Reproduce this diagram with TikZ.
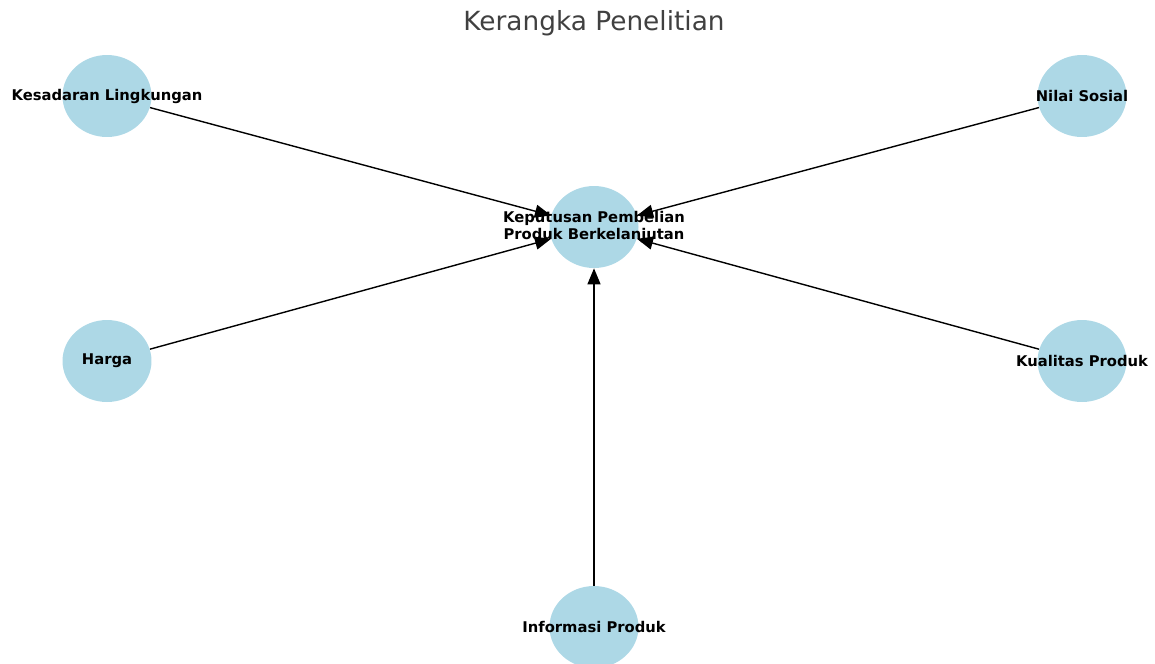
\documentclass[tikz,border=0pt]{standalone}
\usepackage{fontspec}
\setmainfont{DejaVu Sans}
\usetikzlibrary{arrows.meta,shapes.geometric}
\definecolor{nodeblue}{HTML}{ADD8E6}
\definecolor{titlegray}{HTML}{404040}
\tikzset{
    varnode/.style={ellipse,fill=nodeblue,minimum width=1.78cm,minimum height=1.64cm,inner sep=0pt},
    varlabel/.style={font=\fontsize{8.4}{9.6}\selectfont\bfseries,align=center,text=black},
    varedge/.style={-{Triangle[length=0.32cm,width=0.26cm]},line width=0.8pt,black}
}
\begin{document}
\begin{tikzpicture}[x=0.02cm,y=-0.02cm]
    \useasboundingbox (0,0) rectangle (1155,663);
    \node[text=titlegray,font=\fontsize{15}{17}\selectfont] (title) at (594,23) {Kerangka Penelitian};

    \node[varnode,label={[varlabel]center:Keputusan Pembelian\\Produk Berkelanjutan}] (kpb) at (594,227) {};
    \node[varnode,label={[varlabel]center:Kesadaran Lingkungan}] (kl) at (107,96) {};
    \node[varnode,label={[varlabel]center:Nilai Sosial}] (ns) at (1082,96) {};
    \node[varnode,label={[varlabel]center:Harga}] (hg) at (107,361) {};
    \node[varnode,label={[varlabel]center:Kualitas Produk}] (kp) at (1082,361) {};
    \node[varnode,label={[varlabel]center:Informasi Produk}] (ip) at (594,627) {};

    \draw[varedge] (kl) -- (kpb);
    \draw[varedge] (ns) -- (kpb);
    \draw[varedge] (hg) -- (kpb);
    \draw[varedge] (kp) -- (kpb);
    \draw[varedge] (ip) -- (kpb);
\end{tikzpicture}
\end{document}
